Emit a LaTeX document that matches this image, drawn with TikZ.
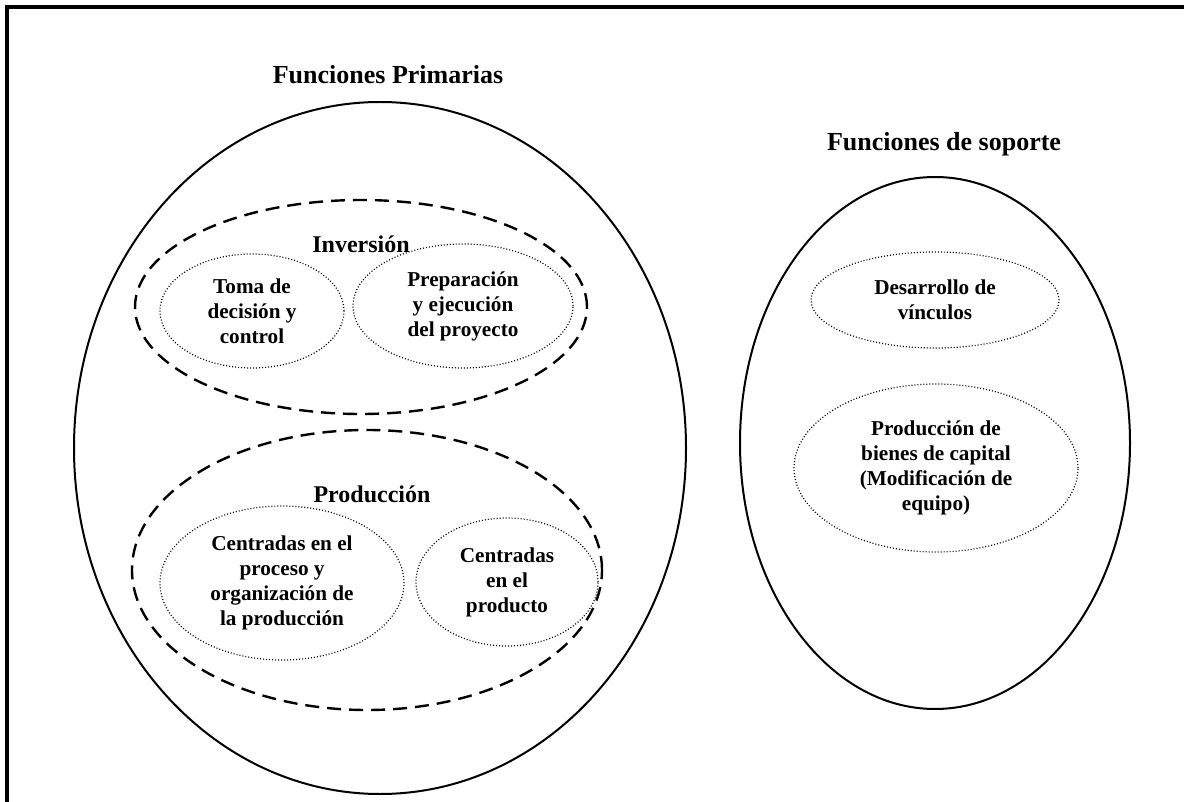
\documentclass[tikz,border=0pt]{standalone}
\usepackage{fontspec}
\setmainfont{Liberation Serif}
\usetikzlibrary{shapes.geometric}

\tikzset{
  campo/.style={ellipse, draw, line width=1pt, inner sep=0pt},
  grupo/.style={ellipse, draw, line width=1.2pt, dash pattern=on 7pt off 4pt, inner sep=0pt},
  tarea/.style={ellipse, draw, line width=0.6pt, dash pattern=on 0.5pt off 1pt, inner sep=0pt, align=center, font=\bfseries\fontsize{10.6}{12.5}\selectfont},
  titulo/.style={font=\bfseries\fontsize{13}{15}\selectfont, inner sep=0pt, anchor=base},
  etiqueta/.style={font=\bfseries\fontsize{12}{14}\selectfont, inner sep=0pt, anchor=base},
}

\begin{document}
\begin{tikzpicture}[x=0.5pt, y=-0.5pt]
	\useasboundingbox (0,0) rectangle (1184,802);
	% marco
	\draw[line width=2pt] (7,802) -- (7,7) -- (1184,7);
	
	% funciones primarias
	\node[campo, minimum width=306pt, minimum height=346pt] (primarias) at (380,448) {};
	\node[titulo] (tprimarias) at (388,84) {Funciones Primarias};
	
	% inversion
	\node[grupo, minimum width=226pt, minimum height=107pt] (inversion) at (361,307) {};
	\node[etiqueta] (tinversion) at (361,253) {Inversión};
	\node[tarea, minimum width=92pt, minimum height=57pt] (toma) at (252,311) {Toma de\\decisión y\\control};
	\node[tarea, minimum width=110pt, minimum height=62pt] (preparacion) at (463,306) {Preparación\\y ejecución\\del proyecto};
	
	% produccion
	\node[grupo, minimum width=235pt, minimum height=140pt] (produccion) at (367,570) {};
	\node[etiqueta] (tproduccion) at (372,502) {Producción};
	\node[tarea, minimum width=122pt, minimum height=77pt] (proceso) at (282,583) {Centradas en el\\proceso y\\organización de\\la producción};
	\node[tarea, minimum width=91pt, minimum height=64pt] (producto) at (507,582) {Centradas\\en el\\producto};
	
	% funciones de soporte
	\node[campo, minimum width=195pt, minimum height=266pt] (soporte) at (935,443) {};
	\node[titulo] (tsoporte) at (944,151) {Funciones de soporte};
	\node[tarea, minimum width=124pt, minimum height=48pt] (vinculos) at (935,300) {Desarrollo de\\vínculos};
	\node[tarea, minimum width=142pt, minimum height=84pt] (bienes) at (936,468) {Producción de\\bienes de capital\\(Modificación de\\equipo)};
\end{tikzpicture}
\end{document}
